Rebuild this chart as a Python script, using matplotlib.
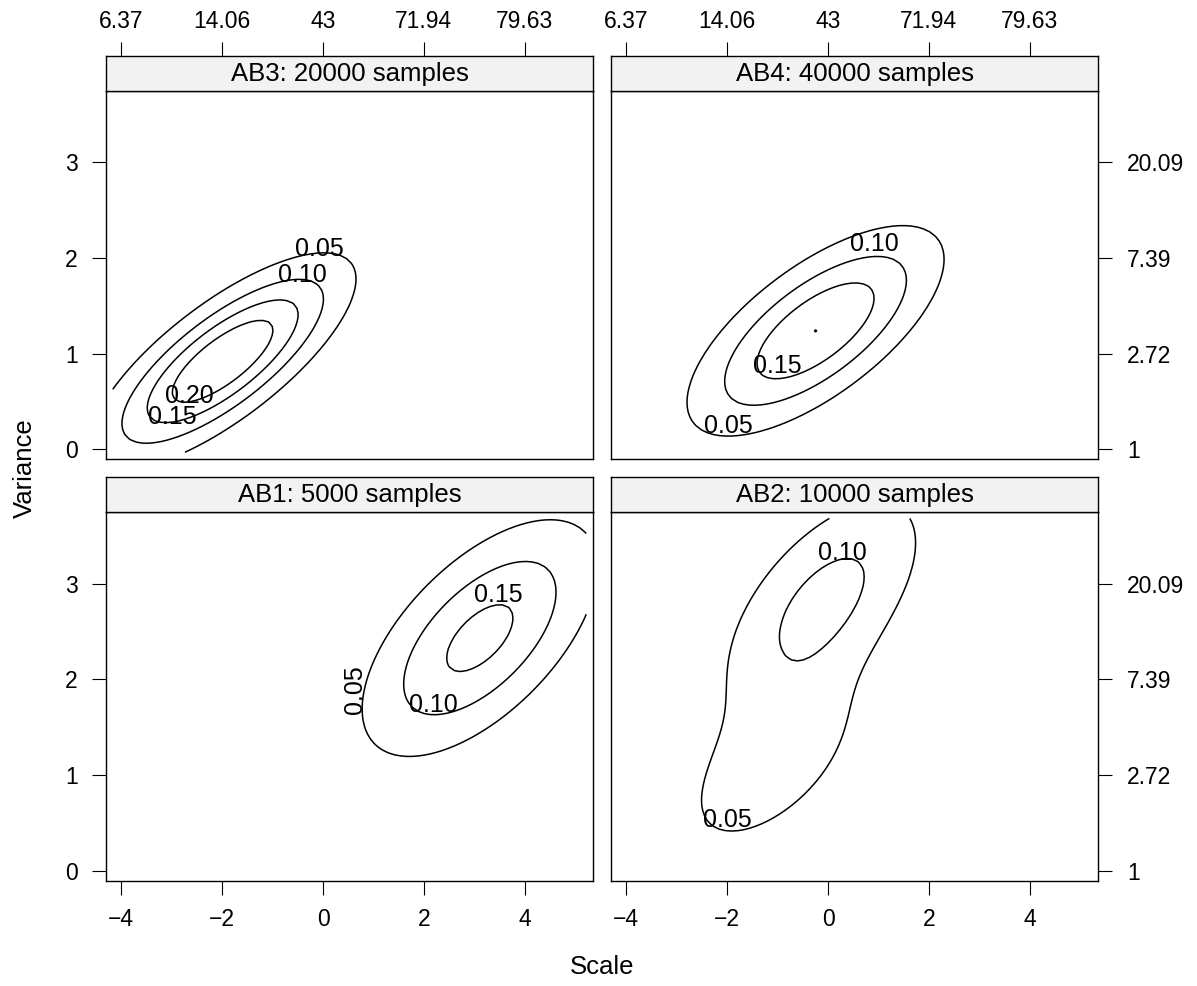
import numpy as np
import matplotlib.pyplot as plt

plt.rcParams['font.family'] = ['Liberation Sans', 'DejaVu Sans']

# panels, in lattice order (bottom row first)
panel_names = ["AB1", "AB2", "AB3", "AB4"]
panel_titles = ["AB1: 5000 samples", "AB2: 10000 samples",
                "AB3: 20000 samples", "AB4: 40000 samples"]
levels = [0.05, 0.10, 0.15, 0.20]

# density surfaces, as sums of gaussian bumps
comp_panel = ["AB1", "AB2", "AB2", "AB3", "AB4"]
comp_peak = [0.165, 0.118, 0.080, 0.252, 0.2002]
comp_cx = [3.11, -0.10, -1.15, -1.99, -0.2476]
comp_cy = [2.43, 2.80, 1.05, 0.92, 1.238]
comp_sx = [1.51, 1.40, 1.30, 1.47, 1.53]
comp_sy = [0.80, 0.80, 0.64, 0.63, 0.66]
comp_rho = [0.60, 0.60, 0.58, 0.76, 0.68]

# range of the density grid
grid_x = [-4.17, 5.22]
grid_y = [-0.03, 3.68]

# contour labels
lab_panel = ["AB3", "AB3", "AB3", "AB3", "AB4", "AB4", "AB4",
             "AB1", "AB1", "AB1", "AB2", "AB2"]
lab_text = ["0.05", "0.10", "0.20", "0.15", "0.10", "0.15", "0.05",
            "0.15", "0.10", "0.05", "0.10", "0.05"]
lab_x = [-0.07, -0.40, -2.65, -2.98, 0.91, -1.01, -1.97,
         3.47, 2.18, 0.63, 0.28, -1.99]
lab_y = [2.09, 1.82, 0.56, 0.34, 2.15, 0.87, 0.24,
         2.88, 1.73, 1.89, 3.32, 0.53]
lab_rot = [0, 0, 0, 0, 0, 0, 0, 0, 0, 90, 0, 0]

x_ticks = [-4, -2, 0, 2, 4]
top_labels = ["6.37", "14.06", "43", "71.94", "79.63"]
y_ticks = [0, 1, 2, 3]
right_labels = ["1", "2.72", "7.39", "20.09"]

xlim = (-4.31, 5.36)
ylim = (-0.104, 3.744)

W, H = 1197, 986
fig = plt.figure(figsize=(W / 100, H / 100), dpi=100)

def fx(px):
    return px / W

def fy(py):
    return 1 - py / H

# pixel boxes: left, right, strip top, strip bottom, panel bottom
boxes = {
    "AB3": (105.7, 593.3, 56, 91, 459.3),
    "AB4": (610.7, 1098.3, 56, 91, 459.3),
    "AB1": (105.7, 593.3, 477.3, 512.3, 880.7),
    "AB2": (610.7, 1098.3, 477.3, 512.3, 880.7),
}

gx, gy = np.meshgrid(np.linspace(grid_x[0], grid_x[1], 80),
                     np.linspace(grid_y[0], grid_y[1], 80))

tick_kw = dict(length=10, width=0.8, labelsize=16.5)

for name, title in zip(panel_names, panel_titles):
    l, r, st, sb, pb = boxes[name]
    ax = fig.add_axes([fx(l), fy(pb), fx(r - l), (pb - sb) / H])
    sax = fig.add_axes([fx(l), fy(sb), fx(r - l), (sb - st) / H])

    z = np.zeros_like(gx)
    for i in range(len(comp_panel)):
        if comp_panel[i] != name:
            continue
        zx = (gx - comp_cx[i]) / comp_sx[i]
        zy = (gy - comp_cy[i]) / comp_sy[i]
        rho = comp_rho[i]
        d2 = (zx ** 2 - 2 * rho * zx * zy + zy ** 2) / (1 - rho ** 2)
        z += comp_peak[i] * np.exp(-d2 / 2)
    ax.contour(gx, gy, z, levels=levels, colors='black', linewidths=1.1)

    for i in range(len(lab_panel)):
        if lab_panel[i] == name:
            ax.text(lab_x[i], lab_y[i], lab_text[i], fontsize=18,
                    rotation=lab_rot[i], ha='center', va='center')

    ax.set_xlim(xlim)
    ax.set_ylim(ylim)
    sax.set_xlim(xlim)
    sax.set_ylim(0, 1)
    sax.set_facecolor('#f2f2f2')
    sax.text(0.5, 0.5, title, transform=sax.transAxes, ha='center',
             va='center', fontsize=18.5)
    sax.set_yticks([])

    top = name in ("AB3", "AB4")
    left = name in ("AB1", "AB3")

    ax.set_xticks(x_ticks)
    ax.set_yticks(y_ticks)
    ax.tick_params(direction='out', **tick_kw)
    if top:
        ax.tick_params(bottom=False, labelbottom=False)
        sax.set_xticks(x_ticks)
        sax.set_xticklabels(top_labels)
        sax.tick_params(axis='x', direction='out', top=True, labeltop=True,
                        bottom=False, labelbottom=False, pad=6.5, **tick_kw)
    else:
        ax.set_xticklabels(["\u22124", "\u22122", "0", "2", "4"])
        ax.tick_params(axis='x', pad=9.5)
        sax.set_xticks([])
    if left:
        ax.tick_params(axis='y', left=True, labelleft=True, pad=10)
    else:
        ax.yaxis.tick_right()
        ax.tick_params(axis='y', pad=10.5)
        ax.set_yticklabels(right_labels)
        for t in ax.get_yticklabels():
            t.set_horizontalalignment('left')

    for a in (ax, sax):
        for s in a.spines.values():
            s.set_linewidth(1.0)

fig.text(fx(602), fy(967), "Scale", ha='center', va='center', fontsize=18.5)
fig.text(fx(25), fy(468), "Variance", ha='center', va='center',
         rotation=90, fontsize=18.5)

fig.savefig("out.png", dpi=100)
